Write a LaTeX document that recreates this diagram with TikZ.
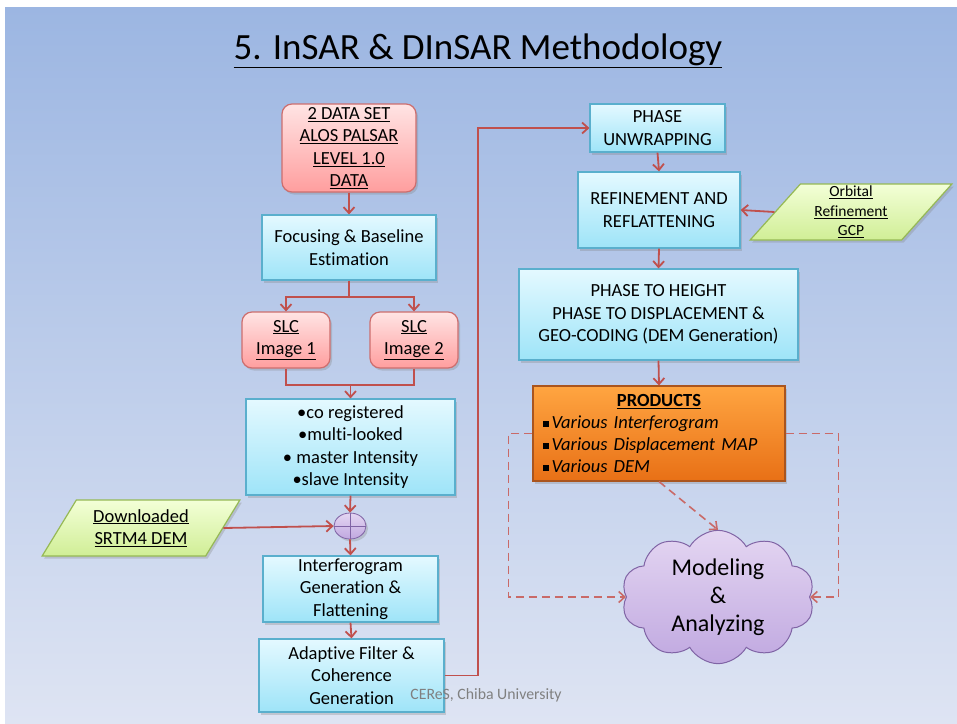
\documentclass[tikz,border=0pt]{standalone}
\usepackage{fontspec}
\setmainfont{Carlito}[Ligatures=NoCommon]
\usetikzlibrary{shapes.geometric,shapes.symbols,arrows.meta,shadows}
\definecolor{bgTop}{RGB}{156,182,226}
\definecolor{bgBot}{RGB}{222,228,243}
\definecolor{pinkTop}{RGB}{255,228,228}
\definecolor{pinkBot}{RGB}{255,158,158}
\definecolor{pinkLine}{RGB}{205,110,110}
\definecolor{cyanTop}{RGB}{228,249,255}
\definecolor{cyanBot}{RGB}{158,228,248}
\definecolor{cyanLine}{RGB}{90,175,205}
\definecolor{greenTop}{RGB}{243,255,215}
\definecolor{greenBot}{RGB}{208,238,150}
\definecolor{greenLine}{RGB}{150,185,85}
\definecolor{orangeTop}{RGB}{255,165,65}
\definecolor{orangeBot}{RGB}{232,112,22}
\definecolor{orangeLine}{RGB}{170,85,30}
\definecolor{purpTop}{RGB}{228,214,242}
\definecolor{purpBot}{RGB}{192,168,224}
\definecolor{purpLine}{RGB}{128,100,165}
\definecolor{arrowc}{RGB}{192,80,77}
\newcommand{\sqb}{\rule[2pt]{5.5pt}{5.5pt}\,}
\begin{document}
\begin{tikzpicture}[x=1pt,y=-1pt,
  every node/.style={font=\fontsize{18.5}{22.5}\selectfont, align=center, inner sep=0pt},
  shad/.style={drop shadow={opacity=0.3, shadow xshift=2pt, shadow yshift=-2.5pt}},
  pinkbox/.style={draw=pinkLine, line width=1.2pt, rounded corners=10pt, top color=pinkTop, bottom color=pinkBot, shad},
  cyanbox/.style={draw=cyanLine, line width=1.2pt, top color=cyanTop, bottom color=cyanBot, shad},
  greenbox/.style={trapezium, trapezium stretches=true, trapezium left angle=56, trapezium right angle=124, draw=greenLine, line width=1.2pt, top color=greenTop, bottom color=greenBot, shad},
  orangebox/.style={draw=orangeLine, line width=1.2pt, top color=orangeTop, bottom color=orangeBot, shad},
  arr/.style={draw=arrowc, line width=1.8pt, -{Straight Barb[length=6pt,width=11pt]}},
  ln/.style={draw=arrowc, line width=1.8pt},
  darr/.style={draw=arrowc!85, line width=1.6pt, dash pattern=on 8pt off 5pt, -{Straight Barb[length=6pt,width=11pt]}}
]
\useasboundingbox (0,0) rectangle (957,723);
\shade[top color=bgTop, bottom color=bgBot] (5,7) rectangle (957,723);

\node[font=\fontsize{37}{44}\selectfont] (title) at (478,51) {\underline{5. InSAR \& DInSAR Methodology}};

% left column
\node[pinkbox, minimum width=134, minimum height=88] (a) at (349,148)
  {\underline{2 DATA SET}\\\underline{ALOS PALSAR}\\\underline{LEVEL 1.0}\\\underline{DATA}};
\node[cyanbox, minimum width=174, minimum height=65] (b) at (349,247.5)
  {Focusing \& Baseline\\Estimation};
\node[pinkbox, minimum width=88, minimum height=56] (s1) at (286,340) {\underline{SLC}\\\underline{Image 1}};
\node[pinkbox, minimum width=88, minimum height=56] (s2) at (414,340) {\underline{SLC}\\\underline{Image 2}};
\node[cyanbox, minimum width=209, minimum height=96] (c) at (350.5,447)
  {\textbullet co registered\\\textbullet multi-looked\\\textbullet{} master Intensity\\\textbullet slave Intensity};
\node[ellipse, draw=purpLine, line width=0.8pt, top color=purpTop, bottom color=purpBot, minimum width=32, minimum height=26, shad] (sum) at (350,526) {};
\draw[purpLine, line width=0.8pt] (sum.north) -- (sum.south) (sum.west) -- (sum.east);
\node[greenbox, minimum width=198, minimum height=56] (dem) at (141,528)
  {\underline{Downloaded}\\\underline{SRTM4 DEM}};
\node[cyanbox, minimum width=175, minimum height=66] (d) at (350.5,589)
  {Interferogram\\Generation \&\\Flattening};
\node[cyanbox, minimum width=185, minimum height=73] (e) at (351.5,675.5)
  {Adaptive Filter \&\\Coherence\\Generation};

% right column
\node[cyanbox, minimum width=135, minimum height=48, font=\fontsize{18.5}{22.5}\selectfont] (f) at (657.5,128)
  {PHASE\\UNWRAPPING};
\node[cyanbox, minimum width=162, minimum height=76, font=\fontsize{18.5}{23}\selectfont] (g) at (659,210)
  {REFINEMENT AND\\REFLATTENING};
\node[greenbox, trapezium left angle=55, trapezium right angle=125, minimum width=202, minimum height=56, font=\fontsize{15.5}{19.5}\selectfont] (orb) at (851,212)
  {\underline{Orbital}\\\underline{Refinement}\\\underline{GCP}};
\node[cyanbox, minimum width=279, minimum height=91, font=\fontsize{18.5}{22.5}\selectfont] (h) at (658.5,314.5)
  {PHASE TO HEIGHT\\PHASE TO DISPLACEMENT \&\\GEO-CODING (DEM Generation)};
\node[orangebox, minimum width=252, minimum height=95, text width=232, align=left, font=\fontsize{18.5}{22}\selectfont] (p) at (659,433.5)
  {\makebox[\linewidth][c]{\textbf{\underline{PRODUCTS}}}\\
   \sqb\textit{Various Interferogram}\\
   \sqb\textit{Various Displacement MAP}\\
   \sqb\textit{Various DEM}};
\node[cloud, cloud puffs=10, cloud puff arc=120, aspect=1.55, draw=purpLine, line width=1pt, top color=purpTop, bottom color=purpBot, minimum width=193, minimum height=120, font=\fontsize{24}{28}\selectfont] (cl) at (718,597)
  {Modeling\\\&\\Analyzing};

\node[text=gray, font=\fontsize{15.8}{19}\selectfont] (foot) at (486,695) {CEReS, Chiba University};

% connectors
\draw[arr] (a.south) -- (b.north);
\draw[arr] (b.south) -- ++(0,16) -| (s1.north);
\draw[arr] (b.south) -- ++(0,16) -| (s2.north);
\draw[ln] (s2.south) -- ++(0,16) -| (c.north);
\draw[arr] (s1.south) -- ++(0,16) -| (c.north);
\draw[arr] (c.south) -- (sum.north);
\draw[arr] (dem.east) -- (sum.west);
\draw[arr] (sum.south) -- (d.north);
\draw[arr] (d.south) -- (e.north);
\draw[arr] (e.east) -- ++(33,0) |- (f.west);
\draw[arr] (f.south) -- (g.north);
\draw[arr] (orb.west) -- (g.east);
\draw[arr] (g.south) -- (h.north);
\draw[arr] (h.south) -- (p.north);
\draw[darr] (p.west) -- ++(-24,0) |- (cl.west);
\draw[darr] (p.east) -- ++(53,0) |- (cl.east);
\draw[darr] (p.south) -- (cl.north);
\end{tikzpicture}
\end{document}
